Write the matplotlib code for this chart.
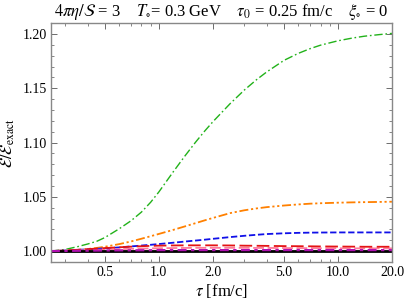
import numpy as np
from matplotlib import pyplot as plt

plt.rcParams['font.family'] = ['Liberation Serif', 'DejaVu Serif']
plt.rcParams['mathtext.fontset'] = 'stix'

# proper time samples [fm/c]
tau = [0.25, 0.3, 0.35, 0.4, 0.45, 0.5, 0.6, 0.7, 0.8, 0.9, 1.0, 1.2, 1.4, 1.6, 1.8,
       2.0, 2.5, 3.0, 3.5, 4.0, 5.0, 6.0, 7.0, 8.0, 10.0, 12.0, 14.0, 17.0, 20.0]

# energy density ratio for each approximation
green = [1.000, 1.0015, 1.004, 1.0065, 1.009, 1.0125, 1.0205, 1.028, 1.036, 1.045,
         1.0545, 1.0728, 1.0878, 1.1002, 1.1105, 1.1191, 1.1359, 1.1484, 1.1578, 1.1651,
         1.1758, 1.1822, 1.1866, 1.1898, 1.1938, 1.1963, 1.198, 1.1995, 1.2006]
orange = [1.000, 1.0003, 1.001, 1.0019, 1.0029, 1.004, 1.0064, 1.0089, 1.0114, 1.0137,
          1.0158, 1.0195, 1.0228, 1.0257, 1.0283, 1.0305, 1.035, 1.0376, 1.0393, 1.0405,
          1.042, 1.043, 1.0437, 1.0441, 1.0446, 1.0449, 1.0451, 1.0453, 1.0455]
blue = [1.000, 1.0005, 1.0011, 1.0016, 1.0021, 1.0025, 1.0034, 1.0043, 1.0051, 1.0058,
        1.0065, 1.0077, 1.0088, 1.0097, 1.0105, 1.0113, 1.0129, 1.0141, 1.015, 1.0157,
        1.0164, 1.0168, 1.017, 1.0171, 1.0172, 1.0172, 1.0172, 1.0172, 1.0172]
red = [1.000, 1.0006, 1.0012, 1.0018, 1.0023, 1.0028, 1.0035, 1.0041, 1.0045, 1.0048,
       1.005, 1.0052, 1.0053, 1.0053, 1.0053, 1.0053, 1.0052, 1.005, 1.0049, 1.0048,
       1.0046, 1.0045, 1.0044, 1.0043, 1.0042, 1.0041, 1.004, 1.004, 1.004]
pink = [1.000, 1.0003, 1.0006, 1.0009, 1.0012, 1.0014, 1.0018, 1.0021, 1.0023, 1.0025,
        1.0026, 1.0028, 1.0029, 1.003, 1.003, 1.003, 1.003, 1.003, 1.0029, 1.0029,
        1.0028, 1.0027, 1.0027, 1.0026, 1.0026, 1.0025, 1.0025, 1.0025, 1.0025]
magenta = [1.000, 1.0002, 1.0003, 1.0004, 1.0005, 1.0006, 1.0007, 1.0007, 1.0008, 1.0008,
           1.0009, 1.0009, 1.0009, 1.0009, 1.0009, 1.0009, 1.0009, 1.0009, 1.0009, 1.0009,
           1.0009, 1.0009, 1.0009, 1.0009, 1.0009, 1.0009, 1.0009, 1.0009, 1.0009]
exact = [1.0] * len(tau)

fig = plt.figure(figsize=(4.07, 3.04), dpi=100)
ax = fig.add_axes([0.1253, 0.138, 0.8377, 0.786])

ax.plot(tau, green, color='#22b21a', lw=1.0, dashes=(6, 2, 1.2, 2))
ax.plot(tau, orange, color='#ff8000', lw=1.3, dashes=(5, 1.5, 1.2, 1.5, 1.2, 1.5))
ax.plot(tau, blue, color='#1010e8', lw=1.3, dashes=(3.5, 1.5))
ax.plot(tau, pink, color='#ff7a9a', lw=1.3, dashes=(6, 2))
ax.plot(tau, red, color='#e41414', lw=1.3, dashes=(7, 2.5))
ax.plot(tau, exact, color='black', lw=2.0)
ax.plot(tau, magenta, color='#b010b0', lw=1.6, dashes=(4, 2, 1.5, 2))

ax.set_xscale('log')
ax.set_xlim(0.25, 20.0)
ax.set_ylim(0.9899, 1.2101)

xt = [0.5, 1.0, 2.0, 5.0, 10.0, 20.0]
ax.set_xticks(xt)
ax.set_xticklabels(['0.5', '1.0', '2.0', '5.0', '10.0', '20.0'])
ax.set_xticks([0.3, 0.4, 0.6, 0.7, 0.8, 0.9, 3, 4, 6, 7, 8, 9], minor=True)
ax.set_xticklabels([], minor=True)
ax.set_yticks([1.00, 1.05, 1.10, 1.15, 1.20])
ax.set_yticklabels(['1.00', '1.05', '1.10', '1.15', '1.20'])
ax.set_yticks(np.arange(0.99, 1.211, 0.01), minor=True)

ax.tick_params(which='both', direction='in', top=True, right=True, labelsize=10,
               color='#555555', pad=3)
ax.tick_params(which='major', length=4, width=0.6)
ax.tick_params(which='minor', length=2, width=0.5)
for s in ax.spines.values():
    s.set_color('#888888')
    s.set_linewidth(1.0)

ax.set_xlabel(r'$\tau$ [fm/c]', fontsize=12, labelpad=2)
ax.set_ylabel(r'$\mathcal{E}/\mathcal{E}_{\rm exact}$', fontsize=12, labelpad=4)
ax.set_title(r'$4\pi\eta/\mathcal{S}$ = 3    $T_{\circ}$= 0.3 GeV    $\tau_0$ = 0.25 fm/c    $\xi_{\circ}$ = 0',
             fontsize=12, pad=5)

fig.savefig('out.png', dpi=100)
